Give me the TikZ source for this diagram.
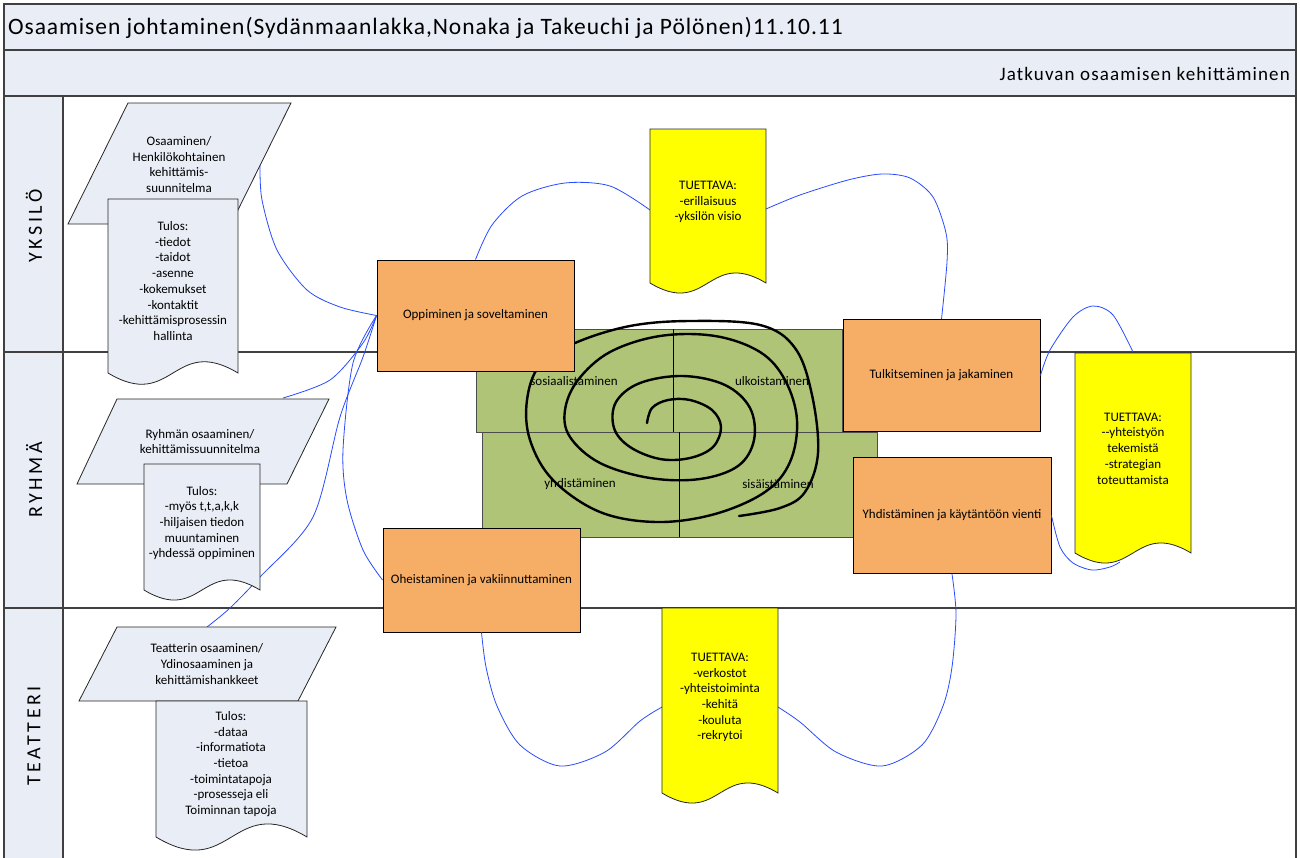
\documentclass[tikz,border=0pt]{standalone}
\usepackage{fontspec}
\setmainfont{Carlito}
\definecolor{hdrfill}{RGB}{233,237,246}
\definecolor{orangefill}{RGB}{246,174,102}
\definecolor{greenfill}{RGB}{175,196,118}
\definecolor{notefill}{RGB}{255,255,0}
\definecolor{wireblue}{RGB}{40,75,255}
\definecolor{lanegray}{RGB}{64,64,64}
\tikzset{
  laneline/.style={draw=lanegray, line width=1.3pt},
  hdr/.style={fill=hdrfill},
  orangebox/.style={draw=black, line width=0.9pt, fill=orangefill, inner sep=0pt,
    font=\fontsize{13}{15.7}\selectfont},
  greenbox/.style={draw=black!70, line width=0.9pt, fill=greenfill},
  wire/.style={draw=wireblue, line width=0.8pt},
  spiralline/.style={line width=2.4pt, line cap=round},
  plan/.style={draw=black!85, line width=0.8pt, fill=hdrfill},
  note/.style={draw=black!85, line width=0.8pt, fill=notefill},
  txt/.style={align=center, font=\fontsize{13}{15.7}\selectfont, inner sep=0pt},
  lanelabel/.style={rotate=90, inner sep=0pt,
    font=\fontsize{20}{24}\selectfont\addfontfeatures{LetterSpace=18}},
}
% document shape with a wavy bottom edge: style, left, top, right, bottom
\newcommand\docshape[5]{%
  \draw[#1] (#2,#3) -- (#4,#3) -- (#4,#5)
    .. controls ({(#2+#4)/2},{#5-0.3*(#4-#2)}) and ({(#2+#4)/2},{#5+0.3*(#4-#2)}) .. (#2,#5) -- cycle;}
\begin{document}
\begin{tikzpicture}[x=1pt,y=-1pt]
\useasboundingbox (0,0) rectangle (1300,857);
\clip (0,0) rectangle (1300,857);

% header bars and lane column
\fill[hdr] (4,4) rectangle (1296,96);
\fill[hdr] (4,96) rectangle (63,870);
\draw[laneline] (4,4) rectangle (1296,870);
\draw[laneline] (4,50) -- (1296,50);
\draw[laneline] (4,96) -- (1296,96);
\draw[laneline] (4,352) -- (1296,352);
\draw[laneline] (4,608) -- (1296,608);
\draw[laneline] (63,96) -- (63,870);

\node[anchor=west, inner sep=0pt, font=\fontsize{23.5}{27}\selectfont\addfontfeatures{LetterSpace=4}] (title) at (8,28)
  {Osaamisen johtaminen(Sydänmaanlakka,Nonaka ja Takeuchi ja Pölönen)11.10.11};
\node[anchor=east, inner sep=0pt, font=\fontsize{19}{23}\selectfont\addfontfeatures{LetterSpace=6}] (subtitle) at (1290,74)
  {Jatkuvan osaamisen kehittäminen};

\node[lanelabel] (yksilo) at (34,226) {YKSILÖ};
\node[lanelabel] (ryhma) at (34,480) {RYHMÄ};
\node[lanelabel] (teatteri) at (34,736) {TEATTERI};

% anchor points on the planning shapes and notes
\coordinate (p1edge) at (260,165);
\coordinate (p2top) at (283,398);
\coordinate (p3top) at (207,627);
\coordinate (n1left) at (650,210);
\coordinate (n1right) at (766,209);
\coordinate (n2top) at (1133,352);
\coordinate (n2bottom) at (1120,562);
\coordinate (n3left) at (662,707);
\coordinate (n3right) at (778,707);

% knowledge-conversion field
\draw[greenbox] (482,432) rectangle (877,537);
\draw[greenbox] (476,329) rectangle (842,432);
\draw[black, line width=0.8pt] (673,329) -- (673,432);
\draw[black, line width=0.8pt] (679,432) -- (679,537);
\node[txt] (sos) at (574,381) {sosiaalistaminen};
\node[txt] (ulk) at (772,381) {ulkoistaminen};
\node[txt] (yhdl) at (580,484) {yhdistäminen};
\node[txt] (sis) at (778,484) {sisäistäminen};

% spiral
\draw[spiralline] plot[smooth, tension=0.6] coordinates {
  (647,423) (652,408) (668,400) (690,400) (712,410) (721,427) (713,447)
  (690,458) (660,459) (630,447) (614,428) (616,402) (640,383) (683,376)
  (725,385) (750,408) (754,440) (738,466) (700,479) (650,478) (600,463)
  (570,437) (565,410) (578,380) (610,352) (660,336) (715,336) (760,352)
  (785,380) (797,420) (790,462) (765,492) (715,514) (657,522) (600,512)
  (553,480) (530,440) (527,400) (540,365) (575,343) (630,326) (690,321)
  (760,325) (795,348) (812,395) (818,453) (805,492) (780,508) (739,516)};

% process boxes
\node[orangebox, minimum width=197pt, minimum height=111pt] (opp) at (475.5,315.5) {Oppiminen ja soveltaminen};
\node[orangebox, minimum width=197pt, minimum height=112pt] (tulk) at (941.5,375.5) {Tulkitseminen ja jakaminen};
\node[orangebox, minimum width=198pt, minimum height=116pt] (yhd) at (952,515.5) {Yhdistäminen ja käytäntöön vienti};
\node[orangebox, minimum width=197pt, minimum height=104pt] (ohe) at (481.5,580) {Oheistaminen ja vakiinnuttaminen};

% connectors
\draw[wire] plot[smooth] coordinates {(p1edge) (262,200) (277,250) (307,290) (340,307) (opp.west)};
\draw[wire] plot[smooth] coordinates {(p2top) (330,380) (363,343) (opp.west)};
\draw[wire] plot[smooth] coordinates {(opp.west) (353,363) (343,450) (347,500) (363,550) (ohe.west)};
\draw[wire] plot[smooth] coordinates {(opp.west) (363,357) (340,417) (313,517) (260,577) (230,608) (p3top)};
\draw[wire] plot[smooth] coordinates {(opp.north) (492,225) (522,196) (565,183) (610,186) (n1left)};
\draw[wire] plot[smooth] coordinates {(n1right) (800,195) (848,180) (882,174) (910,178) (933,197) (946,233) (947,262) (tulk.north)};
\draw[wire] plot[smooth] coordinates {(tulk.east) (1050,350) (1073,317) (1093,306) (1113,315) (n2top)};
\draw[wire] plot[smooth] coordinates {(yhd.east) (1060,547) (1073,563) (1092,570) (1110,567) (n2bottom)};
\draw[wire] plot[smooth] coordinates {(yhd.south) (956,614) (952,667) (943,706) (922,745) (882,766) (836,752) (800,722) (n3right)};
\draw[wire] plot[smooth] coordinates {(ohe.south) (486,667) (497,706) (520,745) (560,766) (605,752) (640,721) (n3left)};

% support notes
\docshape{note}{650}{129}{766}{283}
\node[txt] (n1) at (708,202) {TUETTAVA:\\-erillaisuus\\-yksilön visio};
\docshape{note}{1075}{353}{1191}{553}
\node[txt] (n2) at (1133,448.5) {TUETTAVA:\\-{}-yhteistyön\\tekemistä\\-strategian\\toteuttamista};
\docshape{note}{662}{608}{778}{793}
\node[txt] (n3) at (720,697.5) {TUETTAVA:\\-verkostot\\-yhteistoiminta\\-kehitä\\-kouluta\\-rekrytoi};

% planning shapes
\draw[plan] (128,103) -- (291,103) -- (231,224) -- (68,224) -- cycle;
\node[txt] (p1) at (179,164.5) {Osaaminen/\\Henkilökohtainen\\kehittämis-\\suunnitelma};
\draw[plan] (117,399) -- (329,399) -- (287,484) -- (77,484) -- cycle;
\node[txt] (p2) at (200,441.5) {Ryhmän osaaminen/\\kehittämissuunnitelma};
\draw[plan] (117,627) -- (336,627) -- (298,701) -- (79,701) -- cycle;
\node[txt] (p3) at (207,664) {Teatterin osaaminen/\\Ydinosaaminen ja\\kehittämishankkeet};

% result documents
\docshape{plan}{108}{199}{238}{373}
\node[txt] (d1) at (173,281) {Tulos:\\-tiedot\\-taidot\\-asenne\\-kokemukset\\-kontaktit\\-kehittämisprosessin\\hallinta};
\docshape{plan}{144}{464}{260}{590}
\node[txt] (d2) at (202,523) {Tulos:\\-myös t,t,a,k,k\\-hiljaisen tiedon\\muuntaminen\\-yhdessä oppiminen};
\docshape{plan}{156}{701}{307}{837}
\node[txt] (d3) at (231,764) {Tulos:\\-dataa\\-informatiota\\-tietoa\\-toimintatapoja\\-prosesseja eli\\Toiminnan tapoja};
\end{tikzpicture}
\end{document}
